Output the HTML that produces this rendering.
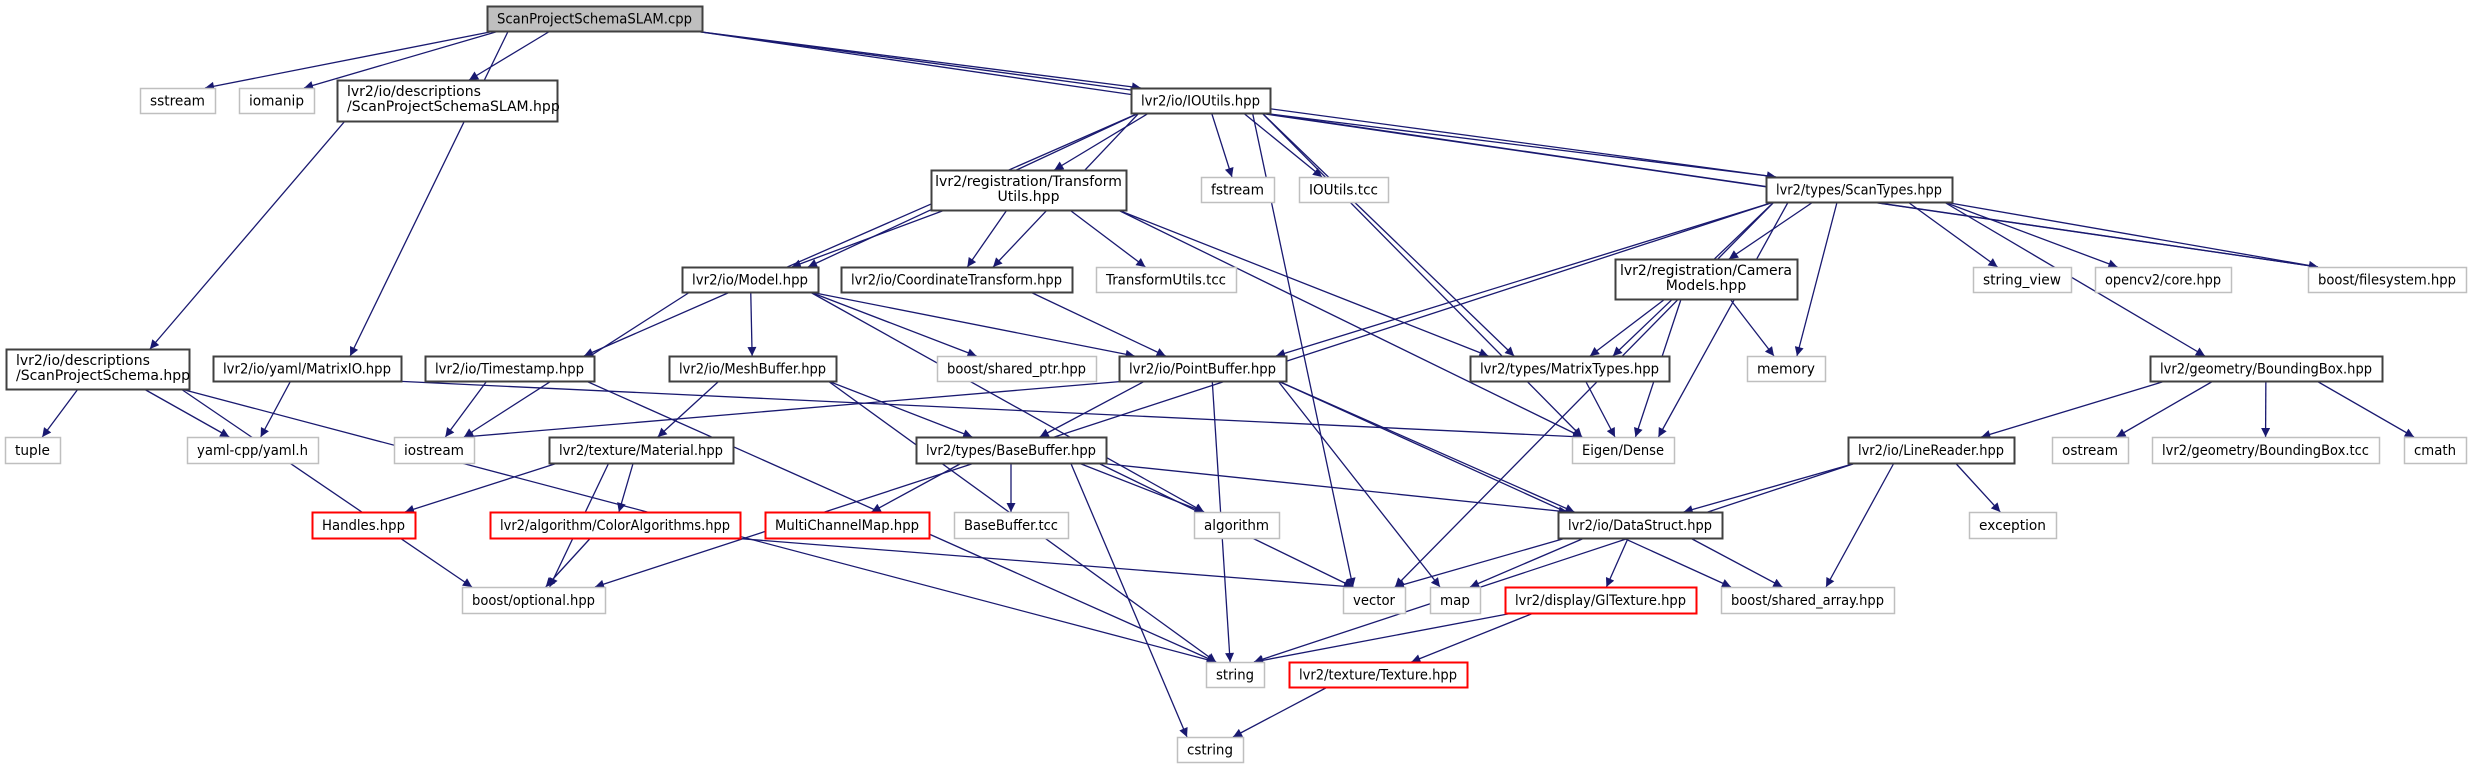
<!DOCTYPE html>
<html><head><meta charset="utf-8"><style>
html,body{margin:0;padding:0;background:#fff;}
svg{display:block}
text{font-family:"DejaVu Sans","Liberation Sans",sans-serif;font-size:14px;fill:#000}
</style></head><body>
<svg id="g" width="2472" height="768" viewBox="0 0 2472 768" xmlns="http://www.w3.org/2000/svg">
<defs><marker id="ah" viewBox="0 0 10 10" refX="10" refY="5" markerWidth="12" markerHeight="9" markerUnits="userSpaceOnUse" orient="auto"><path d="M0,0 L10,5 L0,10 z" fill="#191970"/></marker></defs>
<g id="edges"></g><g id="nodes"></g>
</svg>
<script>
var N={
slam:[487,6,702,31,'ScanProjectSchemaSLAM.cpp','m'],
sstream:[140,88,215,113,'sstream','g'],
iomanip:[239,88,314,113,'iomanip','g'],
sslamh:[337,80,557,121,'lvr2/io/descriptions|/ScanProjectSchemaSLAM.hpp','bl'],
schema:[6,349,189,389,'lvr2/io/descriptions|/ScanProjectSchema.hpp','bl'],
matrixio:[213,356,401,381,'lvr2/io/yaml/MatrixIO.hpp','b'],
timestamp:[425,356,594,381,'lvr2/io/Timestamp.hpp','b'],
model:[682,267,818,292,'lvr2/io/Model.hpp','b'],
meshbuf:[669,356,836,381,'lvr2/io/MeshBuffer.hpp','b'],
ioutils:[1131,88,1270,113,'lvr2/io/IOUtils.hpp','b'],
tutils:[931,170,1126,210,'lvr2/registration/Transform|Utils.hpp','b'],
fstream:[1201,177,1274,202,'fstream','g'],
iotcc:[1299,177,1388,202,'IOUtils.tcc','g'],
coord:[841,267,1072,292,'lvr2/io/CoordinateTransform.hpp','b'],
ttcc:[1096,267,1236,292,'TransformUtils.tcc','g'],
sharedptr:[937,356,1096,381,'boost/shared_ptr.hpp','g'],
pointbuf:[1119,356,1286,381,'lvr2/io/PointBuffer.hpp','b'],
mtypes:[1470,356,1669,381,'lvr2/types/MatrixTypes.hpp','b'],
camera:[1615,259,1797,299,'lvr2/registration/Camera|Models.hpp','b'],
scantypes:[1766,177,1952,202,'lvr2/types/ScanTypes.hpp','b'],
strview:[1973,267,2071,292,'string_view','g'],
opencv:[2095,267,2231,292,'opencv2/core.hpp','g'],
fs:[2308,267,2466,292,'boost/filesystem.hpp','g'],
memory:[1747,356,1825,381,'memory','g'],
bbox:[2150,356,2382,381,'lvr2/geometry/BoundingBox.hpp','b'],
tuple:[5,437,60,463,'tuple','g'],
yaml:[187,437,318,463,'yaml-cpp/yaml.h','g'],
iostream:[394,437,474,463,'iostream','g'],
material:[549,437,733,463,'lvr2/texture/Material.hpp','b'],
handles:[312,512,415,538,'Handles.hpp','r'],
coloralg:[490,512,740,538,'lvr2/algorithm/ColorAlgorithms.hpp','r'],
mcm:[765,512,929,538,'MultiChannelMap.hpp','r'],
optional:[462,587,605,613,'boost/optional.hpp','g'],
basebuf:[916,437,1106,463,'lvr2/types/BaseBuffer.hpp','b'],
bbtcc:[954,512,1068,538,'BaseBuffer.tcc','g'],
algorithm:[1194,512,1279,538,'algorithm','g'],
datastruct:[1558,512,1722,538,'lvr2/io/DataStruct.hpp','b'],
eigen:[1572,437,1674,463,'Eigen/Dense','g'],
vector:[1343,587,1405,613,'vector','g'],
map:[1430,587,1480,613,'map','g'],
gltex:[1505,587,1696,613,'lvr2/display/GlTexture.hpp','r'],
string:[1206,662,1264,687,'string','g'],
texture:[1289,662,1467,687,'lvr2/texture/Texture.hpp','r'],
cstring:[1177,737,1243,762,'cstring','g'],
linereader:[1848,437,2014,463,'lvr2/io/LineReader.hpp','b'],
ostream:[2052,437,2128,463,'ostream','g'],
bbtcc2:[2152,437,2379,463,'lvr2/geometry/BoundingBox.tcc','g'],
cmath:[2404,437,2466,463,'cmath','g'],
exception:[1969,512,2056,538,'exception','g'],
sharedarr:[1721,587,1894,613,'boost/shared_array.hpp','g']
};
var E=[
['slam','sstream'],['slam','iomanip'],['slam','sslamh'],['slam','matrixio'],['slam','ioutils'],['slam','scantypes'],['slam','fs'],
['sslamh','schema'],
['schema','tuple'],['schema','yaml'],['schema','optional'],['schema','string'],
['matrixio','yaml'],['matrixio','eigen'],
['ioutils','tutils'],['ioutils','fstream'],['ioutils','iotcc'],['ioutils','coord'],['ioutils','model'],['ioutils','timestamp'],['ioutils','eigen'],['ioutils','mtypes'],['ioutils','scantypes'],['ioutils','fs'],['ioutils','vector'],
['tutils','coord'],['tutils','ttcc'],['tutils','model'],['tutils','mtypes'],['tutils','eigen'],
['model','meshbuf'],['model','pointbuf'],['model','sharedptr'],['model','iostream'],['model','algorithm'],
['timestamp','iostream'],['timestamp','string'],
['coord','pointbuf'],
['meshbuf','material'],['meshbuf','basebuf'],['meshbuf','string'],
['pointbuf','iostream'],['pointbuf','basebuf'],['pointbuf','string'],['pointbuf','map'],['pointbuf','datastruct'],['pointbuf','sharedarr'],
['scantypes','pointbuf'],['scantypes','camera'],['scantypes','mtypes'],['scantypes','memory'],['scantypes','eigen'],['scantypes','vector'],['scantypes','optional'],['scantypes','strview'],['scantypes','opencv'],['scantypes','fs'],['scantypes','bbox'],
['camera','mtypes'],['camera','memory'],['camera','eigen'],
['mtypes','eigen'],
['material','handles'],['material','coloralg'],['material','optional'],
['coloralg','optional'],['coloralg','vector'],
['basebuf','mcm'],['basebuf','bbtcc'],['basebuf','algorithm'],['basebuf','vector'],['basebuf','cstring'],['basebuf','datastruct'],
['datastruct','vector'],['datastruct','map'],['datastruct','gltex'],['datastruct','sharedarr'],
['gltex','string'],['gltex','texture'],
['texture','cstring'],
['bbox','linereader'],['bbox','ostream'],['bbox','bbtcc2'],['bbox','cmath'],
['linereader','datastruct'],['linereader','sharedarr'],['linereader','exception'],['linereader','string']
];
var NS='http://www.w3.org/2000/svg';
function el(t,a,p){var e=document.createElementNS(NS,t);for(var k in a)e.setAttribute(k,a[k]);p.appendChild(e);return e;}
var eg=document.getElementById('edges'),ng=document.getElementById('nodes');
E.forEach(function(e){var s=N[e[0]],t=N[e[1]];
 var scx=(s[0]+s[2])/2, tcx=(t[0]+t[2])/2;
 var tx=Math.max(t[0]+10,Math.min(t[2]-10,tcx+(scx-tcx)*0.15)), ty=t[1];
 var sx=Math.max(s[0]+8,Math.min(s[2]-8,scx+(tcx-scx)*0.3)), sy=s[3];
 var d;
 if(ty<sy+5){
   ty=(t[1]+t[3])/2; var right=tcx>scx; tx = right? t[0]: t[2];
   sy=(s[1]+s[3])/2; sx=right? s[2]: s[0];
   d='M'+sx+','+sy+' L'+tx+','+ty;
 } else {
   d='M'+sx+','+sy+' L'+tx+','+ty;
 }
 el('path',{d:d,fill:'none',stroke:'#191970','stroke-width':'1.3','marker-end':'url(#ah)'},eg);
});
for(var k in N){var n=N[k],w=n[2]-n[0],h=n[3]-n[1];
 var st=n[5]; var col=st=='g'?'#bfbfbf':(st=='r'?'#ff0000':'#404040');
 el('rect',{x:n[0]+0.5,y:n[1]+0.5,width:w,height:h,fill:st=='m'?'#bfbfbf':'#fff',stroke:col,'stroke-width':st=='g'?'1.5':'2'},ng);
 var lines=n[4].split('|');
 if(lines.length==1){var t=el('text',{x:(n[0]+n[2])/2,y:n[1]+h/2+5,'text-anchor':'middle',textLength:w-20,lengthAdjust:'spacingAndGlyphs'},ng);t.textContent=lines[0];}
 else{lines.forEach(function(L,i){var left=(st=='bl');var t=el('text',{x:left?n[0]+10:(n[0]+n[2])/2,y:n[1]+16+i*15,'text-anchor':left?'start':'middle'},ng);t.textContent=L;});}
}
</script>
</body></html>
